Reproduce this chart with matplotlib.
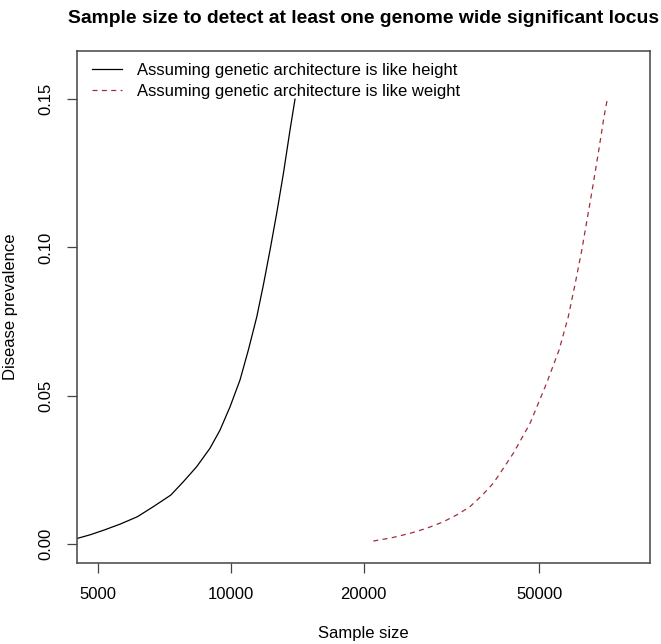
import numpy as np
import matplotlib
matplotlib.use('Agg')
import matplotlib.pyplot as plt
from matplotlib.ticker import FixedLocator, NullLocator, FuncFormatter

plt.rcParams['font.family'] = ['Liberation Sans', 'DejaVu Sans']

# values
height_n = [4480, 4787, 5150, 5600, 6130, 6664, 7300, 7795, 8360, 8960, 9440,
            9950, 10480, 10947, 11440, 11839, 12260, 12694, 13150, 13610, 13970]
height_prev = [0.0019, 0.0031, 0.0047, 0.0067, 0.0092, 0.0126, 0.0165, 0.0210,
               0.0261, 0.0323, 0.0384, 0.0463, 0.0553, 0.0654, 0.0766, 0.0873,
               0.0991, 0.1115, 0.125, 0.1396, 0.150]

weight_n = [21030, 23140, 25480, 27800, 30320, 32510, 34850, 37060, 39370, 41480,
            43700, 45650, 47690, 49790, 52000, 55500, 58240, 60400, 62500, 66000,
            68300, 70200, 71420]
weight_prev = [0.0010, 0.0021, 0.0036, 0.0053, 0.0075, 0.0098, 0.0126, 0.0163,
               0.0205, 0.0255, 0.0306, 0.0356, 0.0407, 0.0474, 0.0542, 0.0654,
               0.0766, 0.0879, 0.0991, 0.1194, 0.1328, 0.1441, 0.150]

x_ticks = [5000, 10000, 20000, 50000]
y_ticks = [0.00, 0.05, 0.10, 0.15]

W, H = 661, 644
fig = plt.figure(figsize=(W / 100, H / 100), dpi=100)
left, right, top, bottom = 77.3, 650.0, 50.5, 562.7
ax = fig.add_axes([left / W, 1 - bottom / H, (right - left) / W, (bottom - top) / H])

ax.plot(height_n, height_prev, color='black', lw=0.9,
        label='Assuming genetic architecture is like height')
ax.plot(weight_n, weight_prev, color='#a02e3a', lw=0.9, linestyle=(0, (4, 3.5)),
        label='Assuming genetic architecture is like weight')

ax.set_xscale('log')
ax.set_xlim(4479, 89260)
ax.set_ylim(-0.0063, 0.1664)

ax.xaxis.set_major_locator(FixedLocator(x_ticks))
ax.xaxis.set_minor_locator(NullLocator())
ax.xaxis.set_major_formatter(FuncFormatter(lambda v, p: '%d' % v))
ax.yaxis.set_major_locator(FixedLocator(y_ticks))
ax.yaxis.set_major_formatter(FuncFormatter(lambda v, p: '%.2f' % v))
for lbl in ax.get_yticklabels():
    lbl.set_rotation(90)
    lbl.set_va('center')

ax.tick_params(axis='both', direction='out', length=7.2, width=0.9,
               color='#444444', labelsize=12)
ax.tick_params(axis='x', pad=10.5)
ax.tick_params(axis='y', pad=10)
for s in ax.spines.values():
    s.set_color('#444444')
    s.set_linewidth(1.1)

ax.set_xlabel('Sample size', fontsize=12, labelpad=17)
ax.set_ylabel('Disease prevalence', fontsize=12, labelpad=15)
ax.set_title('Sample size to detect at least one genome wide significant locus',
             fontsize=13.85, fontweight='bold', pad=20)

ax.legend(loc='upper left', bbox_to_anchor=(0.026, 0.975), frameon=False,
          fontsize=12, handlelength=1.8, handletextpad=0.9, borderpad=0,
          borderaxespad=0, labelspacing=0.32)

fig.savefig('out.png', dpi=100)
